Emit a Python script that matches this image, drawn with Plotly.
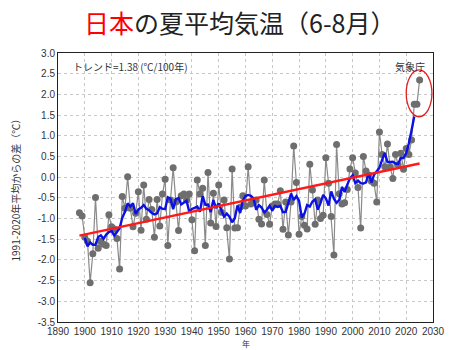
import numpy as np
import pandas as pd
import plotly.graph_objects as go

years = list(range(1898, 2026))
anomaly = [
    -0.86, -0.94, -1.45, -1.55, -2.55, -1.85, -0.49, -1.72, -1.55, -1.62,  # 1898-1907
    -1.65, -0.91, -1.20, -1.25, -1.48, -2.22, -0.47, -0.75, 0.01, -0.75,   # 1908-1917
    -1.20, -0.87, -0.35, -1.28, -0.19, -1.02, -0.54, -0.78, -1.45, -0.54,  # 1918-1927
    -1.18, -0.41, -0.05, -1.65, -0.55, 0.23, -0.60, -1.29, -0.45, -0.41,   # 1928-1937
    -0.55, -0.41, -1.03, -1.78, -0.07, -0.41, -0.27, -1.65, 0.11, -1.11,   # 1938-1947
    -0.39, -1.19, -0.19, -0.85, -0.55, -1.22, -1.98, 0.20, -1.23, -1.22,   # 1948-1957
    -0.73, -0.45, -0.70, 0.25, -0.65, -0.60, -0.55, -1.02, -1.13, -0.07,   # 1958-1967
    -0.90, -1.14, -0.70, -0.65, -0.65, -0.33, -1.26, -0.60, -1.40, -0.60,  # 1968-1977
    0.75, -0.13, -1.38, -0.95, -1.16, -1.25, 0.31, -0.31, -1.14, -0.55,    # 1978-1987
    -1.00, -0.92, 0.47, -0.15, -0.95, -1.88, 0.79, -0.40, -0.65, -0.62,    # 1988-1997
    -0.30, 0.20, 0.47, 0.10, -0.25, -1.23, 0.50, 0.15, 0.05, -0.10,        # 1998-2007
    -0.15, -0.60, 1.09, 0.55, 0.25, 0.80, 0.25, -0.03, 0.55, 0.30,         # 2008-2017
    0.58, 0.19, 0.69, 0.55, 0.90, 1.76, 1.76, 2.35                         # 2018-2025
]

x_ticks = list(range(1890, 2031, 10))
y_ticks = [3.0, 2.5, 2.0, 1.5, 1.0, 0.5, 0.0, -0.5, -1.0, -1.5, -2.0, -2.5, -3.0, -3.5]

title_plain = "の夏平均気温（6-8月）"
title_red = "日本"
trend_label = "トレンド=1.38 (℃/100年)"
source_label = "気象庁"
y_title = "1991-2020年平均からの差（℃）"
x_title = "年"

s = pd.Series(anomaly, index=years)
ma5 = s.rolling(5, center=True).mean()
coef = np.polyfit(years, anomaly, 1)
trend = np.polyval(coef, years)

JP = "Noto Sans CJK JP"
LAT = "Liberation Sans"

fig = go.Figure()
fig.add_trace(go.Scatter(
    x=years, y=anomaly, mode="lines+markers",
    line=dict(color="#8a8a8a", width=1.2),
    marker=dict(color="#6e6e6e", size=7),
    showlegend=False, hoverinfo="skip"))
fig.add_trace(go.Scatter(
    x=years, y=ma5.values, mode="lines",
    line=dict(color="#0a10e6", width=2.4),
    showlegend=False, connectgaps=False))
fig.add_trace(go.Scatter(
    x=years, y=trend, mode="lines",
    line=dict(color="#ff1a1a", width=2.4),
    showlegend=False))

fig.add_shape(type="circle", xref="x", yref="y",
              x0=2020.0, x1=2029.6, y0=1.46, y1=2.59,
              line=dict(color="#e02020", width=1.3))

fig.update_layout(
    width=468, height=350,
    margin=dict(l=58, r=35, t=53, b=28, autoexpand=False),
    paper_bgcolor="white", plot_bgcolor="white",
    font=dict(family=LAT, size=10, color="#333333"),
    showlegend=False,
)
fig.update_xaxes(
    range=[1890, 2030], tickvals=x_ticks, ticktext=[str(v) for v in x_ticks],
    showgrid=True, gridcolor="#c8c8c8", griddash="dot", gridwidth=1,
    showline=True, linecolor="#222222", linewidth=1, mirror=True,
    ticks="", zeroline=False, tickfont=dict(size=10, color="#333333"))
fig.update_yaxes(
    range=[-3.5, 3.0], tickvals=y_ticks, ticktext=[f"{v:.1f}" for v in y_ticks],
    showgrid=True, gridcolor="#c8c8c8", griddash="dot", gridwidth=1,
    showline=True, linecolor="#222222", linewidth=1, mirror=True,
    ticks="", zeroline=False, tickfont=dict(size=10, color="#333333"))

fig.add_annotation(
    xref="paper", yref="paper", x=0.485, y=1.0, yshift=31,
    xanchor="center", yanchor="middle", showarrow=False,
    text=f'<span style="color:#ff0000">{title_red}</span>{title_plain}',
    font=dict(family=JP, size=25, color="#222222"))
fig.add_annotation(
    xref="paper", yref="paper", x=0.035, y=0.985,
    xanchor="left", yanchor="top", showarrow=False,
    text=trend_label, font=dict(family=JP, size=10, color="#333333"))
fig.add_annotation(
    xref="paper", yref="paper", x=0.985, y=0.985,
    xanchor="right", yanchor="top", showarrow=False,
    text=source_label, font=dict(family=JP, size=10, color="#333333"))
fig.add_annotation(
    xref="paper", yref="paper", x=0, xshift=-43, y=0.5,
    xanchor="center", yanchor="middle", showarrow=False, textangle=-90,
    text=y_title, font=dict(family=JP, size=10, color="#333333"))
fig.add_annotation(
    xref="paper", yref="paper", x=0.5, y=0, yshift=-21,
    xanchor="center", yanchor="middle", showarrow=False,
    text=x_title, font=dict(family=JP, size=8, color="#333333"))

fig.write_html("out.html")
